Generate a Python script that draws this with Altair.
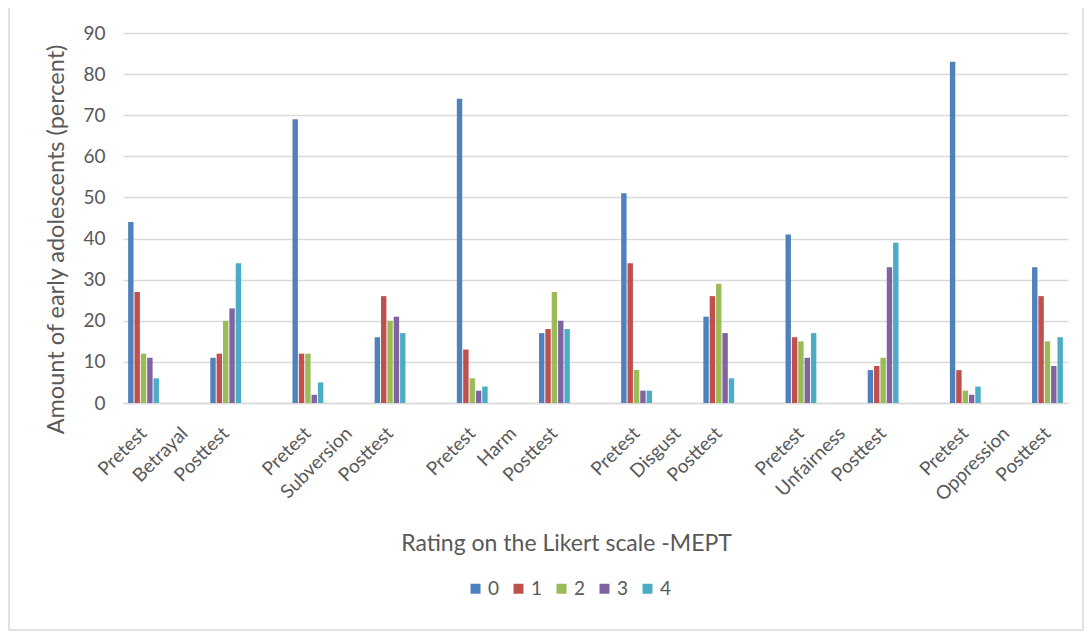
import altair as alt
import pandas as pd

categories = ["Betrayal", "Subversion", "Harm", "Disgust", "Unfairness", "Oppression"]
ratings = ["0", "1", "2", "3", "4"]
pretest = {
    "Betrayal":   [44, 27, 12, 11, 6],
    "Subversion": [69, 12, 12, 2, 5],
    "Harm":       [74, 13, 6, 3, 4],
    "Disgust":    [51, 34, 8, 3, 3],
    "Unfairness": [41, 16, 15, 11, 17],
    "Oppression": [83, 8, 3, 2, 4],
}
posttest = {
    "Betrayal":   [11, 12, 20, 23, 34],
    "Subversion": [16, 26, 20, 21, 17],
    "Harm":       [17, 18, 27, 20, 18],
    "Disgust":    [21, 26, 29, 17, 6],
    "Unfairness": [8, 9, 11, 33, 39],
    "Oppression": [33, 26, 15, 9, 16],
}
colors = ["#4F81BD", "#C0504D", "#9BBB59", "#8064A2", "#4BACC6"]
y_ticks = [0, 10, 20, 30, 40, 50, 60, 70, 80, 90]

# axis slots: Pretest, category name, Posttest, blank gap
slots = []
for i, c in enumerate(categories):
    slots += [f"{c}|Pretest", f"{c}|{c}", f"{c}|Posttest"]
    if i < len(categories) - 1:
        slots.append(f"gap{i}|")

rows = []
for c in categories:
    for j, r in enumerate(ratings):
        rows.append({"slot": f"{c}|Pretest", "rating": r, "value": pretest[c][j]})
        rows.append({"slot": f"{c}|Posttest", "rating": r, "value": posttest[c][j]})
df = pd.DataFrame(rows)

grey = "#595959"

bars = alt.Chart(df).mark_bar().encode(
    x=alt.X(
        "slot:N",
        sort=slots,
        scale=alt.Scale(domain=slots, paddingInner=0.25, paddingOuter=0.125),
        axis=alt.Axis(
            title="Rating on the Likert scale -MEPT",
            labelExpr="split(datum.value, '|')[1]",
            labelAngle=-45,
            labelAlign="right",
            labelBaseline="middle",
            labelFontSize=19,
            labelColor=grey,
            labelPadding=27,
            ticks=False,
            domainColor="#d9d9d9",
            domainWidth=1.5,
            titleFontSize=23,
            titleFontWeight="normal",
            titleColor=grey,
            titleX=443,
            titleY=140,
            titleBaseline="middle",
        ),
    ),
    xOffset=alt.XOffset("rating:N", sort=ratings, scale=alt.Scale(paddingInner=0.15)),
    y=alt.Y(
        "value:Q",
        scale=alt.Scale(domain=[0, 90], nice=False),
        axis=alt.Axis(
            title="Amount of early adolescents (percent)",
            values=y_ticks,
            labelFontSize=19,
            labelColor=grey,
            labelPadding=18,
            ticks=False,
            domain=False,
            gridColor="#d9d9d9",
            gridWidth=1.5,
            titleFontSize=23.5,
            titleFontWeight="normal",
            titleColor=grey,
            titleX=-67,
            titleY=206,
            titleBaseline="middle",
        ),
    ),
    color=alt.Color(
        "rating:N",
        scale=alt.Scale(domain=ratings, range=colors),
        legend=alt.Legend(
            title=None,
            orient="none",
            legendX=343,
            legendY=546,
            direction="horizontal",
            symbolType="square",
            symbolSize=100,
            symbolStrokeWidth=0,
            labelFontSize=19,
            labelColor=grey,
            labelOffset=3,
            columnPadding=9,
        ),
    ),
)

border = alt.Chart(pd.DataFrame({"a": [0]})).mark_rect(
    fillOpacity=0, stroke="#d9d9d9", strokeWidth=1.5
).encode(
    x=alt.value(-114), x2=alt.value(960), y=alt.value(-28), y2=alt.value(597)
)

chart = alt.layer(border, bars).properties(
    width=945,
    height=370,
    padding={"left": 115, "top": 25, "right": 16, "bottom": 228},
    autosize=alt.AutoSizeParams(type="none"),
).configure(font="Lato").configure_view(stroke=None)

chart.save("out.html", embed_options={"renderer": "svg", "actions": False})
